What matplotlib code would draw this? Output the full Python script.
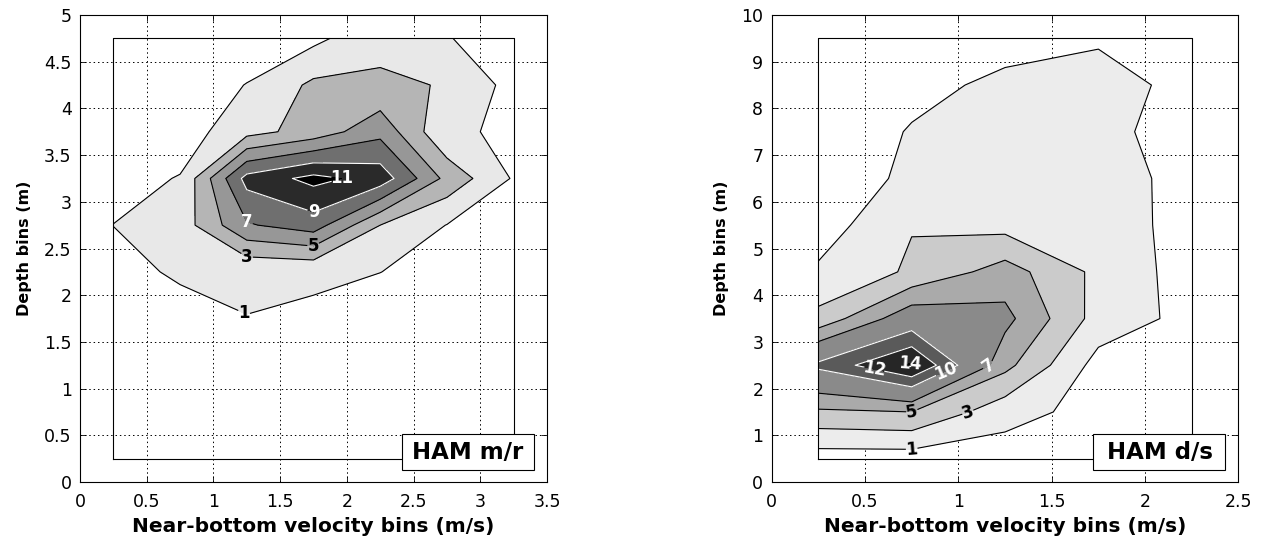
import matplotlib.pyplot as plt
import numpy as np
from matplotlib.patches import Rectangle
from matplotlib.ticker import FormatStrFormatter

plt.rcParams['font.family'] = ['DejaVu Sans']

# ---- HAM m/r ----
vel_mr = [0.25, 0.75, 1.25, 1.75, 2.25, 2.75, 3.25]
depth_mr = [0.25, 0.75, 1.25, 1.75, 2.25, 2.75, 3.25, 3.75, 4.25, 4.75]
freq_mr = [
    [0.0, 0.0, 0.0, 0.0, 0.0, 0.0, 0.0],
    [0.0, 0.0, 0.0, 0.0, 0.0, 0.0, 0.0],
    [0.0, 0.0, 0.0, 0.0, 0.0, 0.0, 0.0],
    [0.0, 0.2, 0.98, 0.7, 0.0, 0.0, 0.0],
    [0.3, 1.3, 1.2, 1.3, 1.02, 0.3, 0.0],
    [1.02, 1.9, 6.8, 8.0, 3.0, 0.95, 0.0],
    [0.3, 1.1, 9.7, 11.6, 10.2, 4.4, 0.8],
    [0.0, 0.0, 2.3, 3.8, 6.4, 1.2, 0.8],
    [0.0, 0.0, 1.05, 3.4, 3.3, 2.9, 0.3],
    [0.0, 0.0, 0.0, 0.5, 2.5, 1.1, 0.0],
]
levels_mr = [1, 3, 5, 7, 9, 11]

# ---- HAM d/s ----
vel_ds = [0.25, 0.75, 1.25, 1.75, 2.25]
depth_ds = [0.5, 1.5, 2.5, 3.5, 4.5, 5.5, 6.5, 7.5, 8.5, 9.5]
freq_ds = [
    [0.0, 0.0, 0.0, 0.0, 0.0],
    [4.65, 5.0, 1.75, 0.3, 0.0],
    [10.5, 14.3, 5.6, 0.25, 0.0],
    [3.6, 8.5, 7.6, 2.2, 0.38],
    [1.3, 3.3, 5.9, 2.5, 0.1],
    [0.0, 2.9, 2.3, 2.0, 0.28],
    [0.0, 1.33, 2.0, 1.8, 0.4],
    [0.0, 1.1, 1.6, 1.4, 0.37],
    [0.0, 0.6, 1.3, 1.5, 0.62],
    [0.0, 0.0, 0.5, 0.85, 0.0],
]
levels_ds = [1, 3, 5, 7, 10, 12, 14]

panels = [
    dict(x=vel_mr, y=depth_mr, z=freq_mr, levels=levels_mr,
         fills=['#e8e8e8', '#b5b5b5', '#979797', '#6f6f6f', '#2a2a2a', '#000000'],
         lines=['k', 'k', 'k', 'k', 'w', 'w'],
         labcol=['k', 'k', 'k', 'w', 'w', 'w'],
         labpos=[(1.21, 1.74), (1.24, 2.38), (1.75, 2.5), (1.22, 2.76), (1.75, 2.88), (1.98, 3.25)],
         upright=True,
         xlim=3.5, ylim=5, ystep=0.5, title='HAM m/r',
         pos=[80 / 1267, 66 / 548, 467 / 1267, 467 / 548]),
    dict(x=vel_ds, y=depth_ds, z=freq_ds, levels=levels_ds,
         fills=['#ececec', '#cbcbcb', '#aaaaaa', '#8a8a8a', '#5a5a5a', '#262626', '#000000'],
         lines=['k', 'k', 'k', 'k', 'w', 'w', 'w'],
         labcol=['k', 'k', 'k', 'w', 'w', 'w', 'w'],
         labpos=[(0.75, 0.7), (1.05, 1.5), (0.75, 1.52), (1.16, 2.5), (0.93, 2.38), (0.55, 2.42), (0.74, 2.52)],
         upright=False,
         xlim=2.5, ylim=10, ystep=1, title='HAM d/s',
         pos=[771.7 / 1267, 66 / 548, 466.7 / 1267, 467 / 548]),
]

fig = plt.figure(figsize=(12.67, 5.48), dpi=100)

for p in panels:
    ax = fig.add_axes(p['pos'])
    x = np.array(p['x'])
    y = np.array(p['y'])
    z = np.array(p['z'])
    fill_levels = p['levels'] + [z.max() + 1]
    ax.contourf(x, y, z, levels=fill_levels, colors=p['fills'], zorder=1)
    cs = ax.contour(x, y, z, levels=p['levels'], colors=p['lines'], linewidths=0.8, zorder=2)
    # outline of the binned domain
    ax.plot([x[0], x[-1], x[-1], x[0], x[0]], [y[0], y[0], y[-1], y[-1], y[0]],
            color='k', lw=0.8, zorder=2)
    labels = ax.clabel(cs, p['levels'], inline=True, inline_spacing=2, fmt='%d',
                       fontsize=12, colors=p['labcol'], manual=p['labpos'])
    for t in labels:
        t.set_fontweight('bold')
        if p['upright']:
            t.set_rotation(0)

    ax.set_xlim(0, p['xlim'])
    ax.set_ylim(0, p['ylim'])
    ax.set_xticks(np.arange(0, p['xlim'] + 0.01, 0.5))
    ax.set_yticks(np.arange(0, p['ylim'] + 0.01, p['ystep']))
    ax.xaxis.set_major_formatter(FormatStrFormatter('%g'))
    ax.yaxis.set_major_formatter(FormatStrFormatter('%g'))
    ax.tick_params(direction='in', length=4, width=0.6, labelsize=12.5,
                   top=True, right=True)
    ax.tick_params(axis='x', pad=8)
    ax.tick_params(axis='y', pad=6)
    ax.set_axisbelow(True)
    ax.grid(True, linestyle=(0, (1.5, 3)), color='k', linewidth=0.7)
    for s in ax.spines.values():
        s.set_linewidth(0.8)
    ax.set_xlabel('Near-bottom velocity bins (m/s)', fontsize=14.5, fontweight='bold', labelpad=4)
    ax.set_ylabel('Depth bins (m)', fontsize=11.5, fontweight='bold', labelpad=9)

    # label box in the lower right corner
    ax.add_patch(Rectangle((0.6895, 0.0257), 0.2825, 0.0771, transform=ax.transAxes,
                           facecolor='white', edgecolor='k', linewidth=0.8, zorder=5))
    ax.text(0.831, 0.064, p['title'], transform=ax.transAxes, ha='center', va='center',
            fontsize=16.5, fontweight='bold', zorder=6)

fig.savefig('out.png', dpi=100)
